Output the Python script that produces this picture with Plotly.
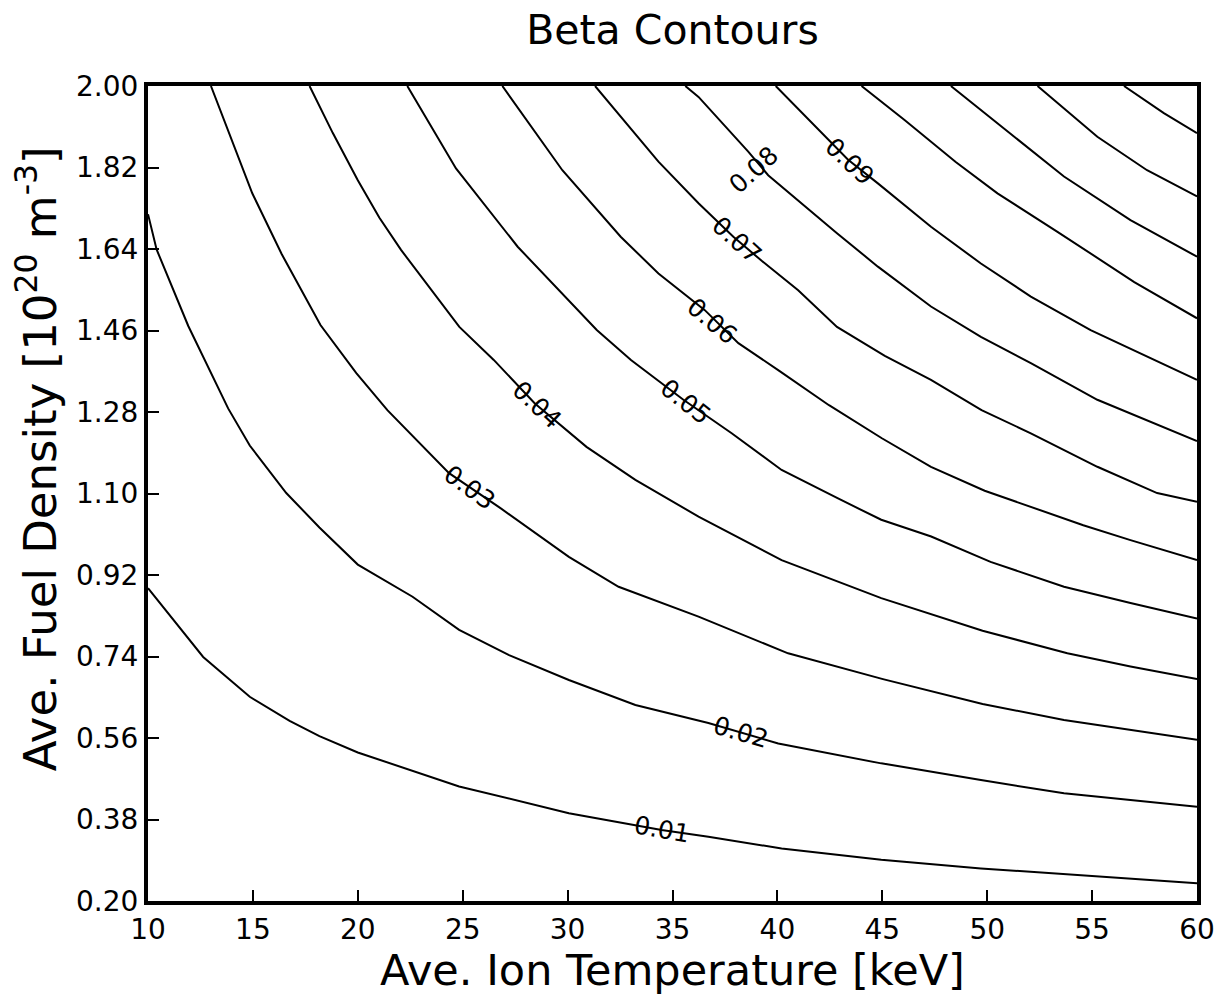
import numpy as np
import plotly.graph_objects as go

# Beta contour levels and their traced (temperature, density) paths
levels = [0.01, 0.02, 0.03, 0.04, 0.05, 0.06, 0.07, 0.08, 0.09, 0.10, 0.11, 0.12, 0.13]

temp_001 = [10.0, 12.63, 14.85, 16.75, 18.17, 20.0, 24.83, 30.06, 34.48, 36.71, 40.2, 44.95, 49.7, 55.25, 60.0]
dens_001 = [0.891, 0.739, 0.651, 0.598, 0.564, 0.528, 0.453, 0.394, 0.357, 0.342, 0.316, 0.291, 0.272, 0.254, 0.239]

temp_002 = [10.0, 10.41, 11.92, 13.82, 14.85, 16.59, 18.17, 20.0, 22.61, 24.83, 27.21, 30.06, 33.23, 36.71, 40.04, 44.95, 49.7, 53.66, 60.0]
dens_002 = [1.717, 1.639, 1.47, 1.288, 1.206, 1.101, 1.025, 0.943, 0.872, 0.799, 0.743, 0.688, 0.633, 0.593, 0.548, 0.504, 0.467, 0.438, 0.408]

temp_003 = [13.0, 14.42, 14.97, 16.37, 18.22, 19.93, 21.41, 24.35, 26.73, 30.06, 32.43, 36.24, 40.51, 45.03, 49.78, 53.66, 56.83, 60.0]
dens_003 = [2.0, 1.828, 1.763, 1.629, 1.472, 1.366, 1.284, 1.145, 1.07, 0.96, 0.894, 0.828, 0.747, 0.69, 0.635, 0.6, 0.578, 0.556]

temp_004 = [17.7, 18.81, 20.0, 21.03, 22.06, 24.84, 26.48, 28.44, 30.9, 33.23, 36.24, 40.2, 44.95, 49.78, 53.82, 56.83, 60.0]
dens_004 = [2.0, 1.896, 1.792, 1.709, 1.638, 1.468, 1.395, 1.299, 1.203, 1.13, 1.049, 0.953, 0.869, 0.797, 0.747, 0.718, 0.69]

temp_005 = [22.36, 24.68, 27.62, 31.39, 33.02, 35.52, 37.82, 40.2, 42.89, 44.95, 47.33, 50.16, 53.66, 56.83, 60.0]
dens_005 = [2.0, 1.818, 1.645, 1.461, 1.395, 1.307, 1.233, 1.152, 1.089, 1.042, 1.005, 0.949, 0.894, 0.858, 0.824]

temp_006 = [26.89, 29.75, 32.53, 34.33, 36.54, 38.14, 40.09, 42.46, 44.98, 47.32, 49.88, 54.58, 56.83, 60.0]
dens_006 = [2.0, 1.814, 1.667, 1.586, 1.505, 1.432, 1.371, 1.295, 1.222, 1.159, 1.106, 1.03, 0.997, 0.953]

temp_007 = [31.31, 34.33, 36.24, 37.9, 39.25, 40.99, 42.84, 45.12, 47.32, 49.73, 52.08, 55.25, 58.1, 60.0]
dens_007 = [2.0, 1.833, 1.741, 1.667, 1.614, 1.549, 1.468, 1.404, 1.351, 1.284, 1.233, 1.159, 1.101, 1.082]

temp_008 = [35.61, 36.24, 38.61, 39.56, 42.84, 44.79, 47.32, 49.7, 52.08, 55.25, 60.0]
dens_008 = [2.0, 1.976, 1.855, 1.803, 1.675, 1.601, 1.513, 1.446, 1.388, 1.307, 1.216]

temp_009 = [39.92, 43.37, 44.79, 47.32, 49.7, 52.08, 54.93, 60.0]
dens_009 = [2.0, 1.837, 1.785, 1.689, 1.608, 1.535, 1.461, 1.351]

temp_010 = [44.01, 46.06, 48.5, 50.49, 53.35, 57.01, 60.0]
dens_010 = [2.0, 1.925, 1.832, 1.763, 1.678, 1.567, 1.487]

temp_011 = [48.27, 50.49, 53.66, 56.83, 60.0]
dens_011 = [2.0, 1.918, 1.8, 1.704, 1.623]

temp_012 = [52.4, 55.25, 57.62, 60.0]
dens_012 = [2.0, 1.888, 1.814, 1.756]

temp_013 = [56.52, 58.42, 60.0]
dens_013 = [2.0, 1.94, 1.896]

contour_temps = [temp_001, temp_002, temp_003, temp_004, temp_005, temp_006, temp_007,
                 temp_008, temp_009, temp_010, temp_011, temp_012, temp_013]
contour_dens = [dens_001, dens_002, dens_003, dens_004, dens_005, dens_006, dens_007,
                dens_008, dens_009, dens_010, dens_011, dens_012, dens_013]

# Inline labels: which levels get one and the temperature where each sits
labeled_levels = [0.01, 0.02, 0.03, 0.04, 0.05, 0.06, 0.07, 0.08, 0.09]
label_temps = [34.48, 38.28, 25.33, 28.52, 35.62, 36.90, 38.09, 38.90, 43.45]
label_angles = [10, 16, 36, 43, 38, 40, 42, -42, 43]
label_yshift = [0, 0, 0, 0, 0, -4, 0, -11, 0]

x_ticks = [10, 15, 20, 25, 30, 35, 40, 45, 50, 55, 60]
y_ticks = [0.20, 0.38, 0.56, 0.74, 0.92, 1.10, 1.28, 1.46, 1.64, 1.82, 2.00]

FONT = "DejaVu Sans"

fig = go.Figure()

for lev, ts, ns in zip(levels, contour_temps, contour_dens):
    fig.add_trace(go.Scatter(
        x=ts, y=ns, mode="lines",
        line=dict(color="black", width=2),
        name=f"{lev:.2f}", showlegend=False, hoverinfo="skip",
    ))

for lev, t_lab, ang, ys in zip(labeled_levels, label_temps, label_angles, label_yshift):
    idx = levels.index(lev)
    n_lab = float(np.interp(t_lab, contour_temps[idx], contour_dens[idx]))
    fig.add_annotation(
        x=t_lab, y=n_lab, xref="x", yref="y",
        text=f"{lev:.2f}", showarrow=False, textangle=ang, yshift=ys,
        font=dict(family=FONT, size=25, color="black"),
        xanchor="center", yanchor="middle",
    )

# Axis titles placed as annotations
fig.add_annotation(
    text="Ave. Ion Temperature [keV]", xref="paper", yref="paper",
    x=0.5, y=-0.085, showarrow=False, xanchor="center", yanchor="middle",
    font=dict(family=FONT, size=43, color="black"),
)
fig.add_annotation(
    text="Ave. Fuel Density [10<sup>20</sup> m<sup>-3</sup>]", xref="paper", yref="paper",
    x=-0.105, y=0.543, showarrow=False, textangle=-90, xanchor="center", yanchor="middle",
    font=dict(family=FONT, size=45, color="black"),
)

fig.update_layout(
    width=1227, height=995,
    margin=dict(l=148, r=27, t=86, b=94),
    paper_bgcolor="white", plot_bgcolor="white",
    title=dict(text="Beta Contours", x=0.5, xref="paper", y=1 - 30 / 995, yref="container",
               xanchor="center", yanchor="middle",
               font=dict(family=FONT, size=41, color="black")),
    font=dict(family=FONT, color="black"),
)

fig.update_xaxes(
    range=[10, 60], tickvals=x_ticks, ticktext=[str(v) for v in x_ticks],
    ticks="inside", ticklen=11, tickwidth=2, tickcolor="black",
    showline=True, linecolor="black", linewidth=4, mirror=True,
    showgrid=False, zeroline=False,
    tickfont=dict(family=FONT, size=28, color="black"),
)
fig.update_yaxes(
    range=[0.2, 2.0], tickvals=y_ticks, ticktext=[f"{v:.2f}" for v in y_ticks],
    ticks="inside", ticklen=11, tickwidth=2, tickcolor="black",
    showline=True, linecolor="black", linewidth=4, mirror=True,
    showgrid=False, zeroline=False,
    tickfont=dict(family=FONT, size=28, color="black"),
)

fig.write_html("out.html")
